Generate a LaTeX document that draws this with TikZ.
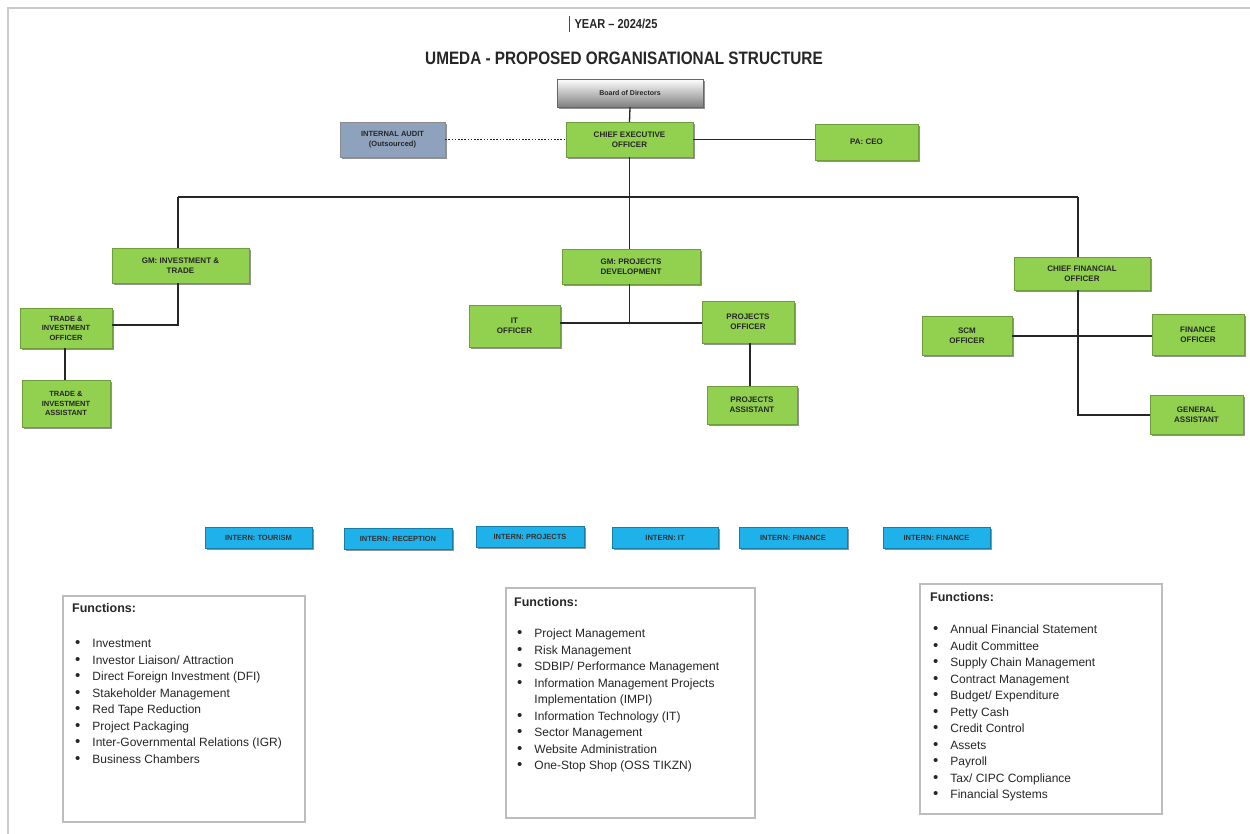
\documentclass[tikz,border=0pt]{standalone}
\usepackage{fontspec}
\setmainfont{Liberation Sans}
\newfontfamily\narrowfont[FakeStretch=0.85,Ligatures=TeX]{Liberation Sans}
\usetikzlibrary{shadows}
\definecolor{boxgreen}{HTML}{92D050}
\definecolor{greenedge}{HTML}{6E9E3A}
\definecolor{auditblue}{HTML}{8EA2BE}
\definecolor{interncyan}{HTML}{1FB2EA}
\definecolor{frameline}{HTML}{BDBDBD}
\tikzset{
  shad/.style={drop shadow={shadow xshift=1.6pt,shadow yshift=-1.8pt,fill=black!60,opacity=0.7}},
  orgbox/.style={rectangle, shad, draw=greenedge, line width=0.4pt, fill=boxgreen, align=center,
     font=\bfseries\fontsize{8}{10}\selectfont, text=black!85, inner sep=1pt},
  boardbox/.style={rectangle, shad, draw=black!60, line width=0.5pt, top color=white, bottom color=black!50,
     align=center, font=\bfseries\fontsize{7}{9}\selectfont, text=black!85},
  auditbox/.style={rectangle, shad, draw=black!45, line width=0.4pt, fill=auditblue, align=center,
     font=\bfseries\fontsize{7.5}{9.5}\selectfont, text=black!85, inner sep=1pt},
  internbox/.style={rectangle, shad, draw=interncyan!70!black, line width=0.3pt, fill=interncyan,
     font=\bfseries\fontsize{7.5}{9}\selectfont, text=black!80, minimum height=21pt, inner sep=1pt},
  funcbox/.style={rectangle, draw=frameline, line width=1.2pt, fill=white},
  conn/.style={draw=black!85, line width=1.3pt},
  functitle/.style={anchor=base west, font=\bfseries\fontsize{12.5}{14}\selectfont, text=black!85, inner sep=0pt},
  funclist/.style={anchor=base west, font=\fontsize{12}{16.5}\selectfont, text=black!85, inner sep=0pt, align=left},
}
\newcommand{\flist}[1]{\begin{tabular}[t]{@{}l@{\hspace{12pt}}l@{}}#1\end{tabular}}
\newcommand{\bul}{{\fontsize{15}{15}\selectfont\textbullet}}
\begin{document}
\begin{tikzpicture}[x=1pt,y=-1pt]
\useasboundingbox (0,0) rectangle (1250,834);
\fill[white] (0,0) rectangle (1250,834);
% page frame
\draw[frameline!80, line width=2pt] (8,834) -- (8,8) -- (1250,8);

% titles
\node[font=\narrowfont\bfseries\fontsize{13}{15}\selectfont, text=black!85] (year) at (616,24) {YEAR – 2024/25};
\draw[black!70, line width=0.6pt] ([xshift=-1.5pt]year.west |- 0,16) -- ([xshift=-1.5pt]year.west |- 0,32);
\node[font=\narrowfont\bfseries\fontsize{18}{20}\selectfont, text=black!85] (title) at (624,58) {UMEDA - PROPOSED ORGANISATIONAL STRUCTURE};

% top level
\node[boardbox, minimum width=146pt, minimum height=28pt] (board) at (630,93) {Board of Directors};
\node[orgbox, minimum width=127pt, minimum height=35pt] (ceo) at (629.5,139.5) {CHIEF EXECUTIVE\\OFFICER};
\node[auditbox, minimum width=105pt, minimum height=35pt] (audit) at (392.5,139.5) {INTERNAL AUDIT\\(Outsourced)};
\node[orgbox, minimum width=103pt, minimum height=36pt] (pa) at (866.5,142) {PA: CEO};

% second level
\node[orgbox, minimum width=137pt, minimum height=35pt] (gminv) at (180.5,265.5) {GM: INVESTMENT \&\\TRADE};
\node[orgbox, minimum width=138pt, minimum height=35pt] (gmproj) at (631,266.5) {GM: PROJECTS\\DEVELOPMENT};
\node[orgbox, minimum width=136pt, minimum height=33pt] (cfo) at (1082,273.5) {CHIEF FINANCIAL\\OFFICER};

% third level
\node[orgbox, minimum width=92pt, minimum height=40pt, font=\bfseries\fontsize{7.5}{9.5}\selectfont] (tio) at (66,328) {TRADE \&\\INVESTMENT\\OFFICER};
\node[orgbox, minimum width=88pt, minimum height=47pt, font=\bfseries\fontsize{7.5}{9.5}\selectfont] (tia) at (66,403.5) {TRADE \&\\INVESTMENT\\ASSISTANT};
\node[orgbox, minimum width=91pt, minimum height=42pt] (it) at (514.5,326) {IT\\OFFICER};
\node[orgbox, minimum width=92pt, minimum height=42pt] (po) at (748,322) {PROJECTS\\OFFICER};
\node[orgbox, minimum width=90pt, minimum height=38pt] (pas) at (752,405) {PROJECTS\\ASSISTANT};
\node[orgbox, minimum width=90pt, minimum height=39pt] (scm) at (967,335.5) {SCM\\OFFICER};
\node[orgbox, minimum width=92pt, minimum height=41pt] (fo) at (1198,334.5) {FINANCE\\OFFICER};
\node[orgbox, minimum width=93pt, minimum height=39pt] (ga) at (1196.5,414.5) {GENERAL\\ASSISTANT};

% connectors
\coordinate (busL) at (178,197);
\coordinate (busR) at (1078,197);
\coordinate (busM) at (629.5,197);
\coordinate (projJ) at (629.5,323);
\coordinate (invJ) at (178,325);
\coordinate (cfoJ) at (1078,415);

\draw[conn] (board.south) -- (ceo.north);
\draw[black!85, line width=1.6pt, dash pattern=on 1.6pt off 1.6pt] (audit.east) -- (ceo.west);
\draw[conn] (ceo.east) -- (ceo.east -| pa.west);
\draw[conn] (ceo.south) -- (busM);
\draw[conn] (busL) -- (busR);
\draw[conn] (busL) -- (busL |- gminv.north);
\draw[conn] (busM) -- (busM |- gmproj.north);
\draw[conn] (busR) -- (busR |- cfo.north);

\draw[conn] (busL |- gminv.south) -- (invJ) -- (invJ -| tio.east);
\draw[conn] ([xshift=-1pt]tio.south) -- ([xshift=-1pt]tio.south |- tia.north);

\draw[conn] (projJ |- gmproj.south) -- (projJ);
\draw[conn] (projJ -| it.east) -- (projJ -| po.west);
\draw[conn] ([xshift=2pt]po.south) -- ([xshift=2pt]po.south |- pas.north);

\draw[conn] (busR |- cfo.south) -- (cfoJ) -- (cfoJ -| ga.west);
\draw[conn] (scm.east |- 0,336) -- (fo.west |- 0,336);

% interns
\node[internbox, minimum width=107pt] (i1) at (258.5,538) {INTERN: TOURISM};
\node[internbox, minimum width=108pt] (i2) at (398,538.5) {INTERN: RECEPTION};
\node[internbox, minimum width=108pt] (i3) at (530,536.5) {INTERN: PROJECTS};
\node[internbox, minimum width=106pt] (i4) at (665,537.5) {INTERN: IT};
\node[internbox, minimum width=108pt] (i5) at (793,537.5) {INTERN: FINANCE};
\node[internbox, minimum width=107pt] (i6) at (936.5,537.5) {INTERN: FINANCE};

% function boxes
\node[funcbox, minimum width=242pt, minimum height=226pt] (f1) at (184,709) {};
\node[funcbox, minimum width=249pt, minimum height=230pt] (f2) at (630.5,703) {};
\node[funcbox, minimum width=242pt, minimum height=230pt] (f3) at (1041,699) {};

\node[functitle] (f1t) at (72,612) {Functions:};
\node[funclist] (f1l) at (75,647.5) {\flist{%
\bul & Investment\\
\bul & Investor Liaison/ Attraction\\
\bul & Direct Foreign Investment (DFI)\\
\bul & Stakeholder Management\\
\bul & Red Tape Reduction\\
\bul & Project Packaging\\
\bul & Inter-Governmental Relations (IGR)\\
\bul & Business Chambers}};

\node[functitle] (f2t) at (514,606) {Functions:};
\node[funclist] (f2l) at (517,637.5) {\flist{%
\bul & Project Management\\
\bul & Risk Management\\
\bul & SDBIP/ Performance Management\\
\bul & Information Management Projects\\
 & Implementation (IMPI)\\
\bul & Information Technology (IT)\\
\bul & Sector Management\\
\bul & Website Administration\\
\bul & One-Stop Shop (OSS TIKZN)}};

\node[functitle] (f3t) at (930,601) {Functions:};
\node[funclist] (f3l) at (933,633.5) {\flist{%
\bul & Annual Financial Statement\\
\bul & Audit Committee\\
\bul & Supply Chain Management\\
\bul & Contract Management\\
\bul & Budget/ Expenditure\\
\bul & Petty Cash\\
\bul & Credit Control\\
\bul & Assets\\
\bul & Payroll\\
\bul & Tax/ CIPC Compliance\\
\bul & Financial Systems}};
\end{tikzpicture}
\end{document}
